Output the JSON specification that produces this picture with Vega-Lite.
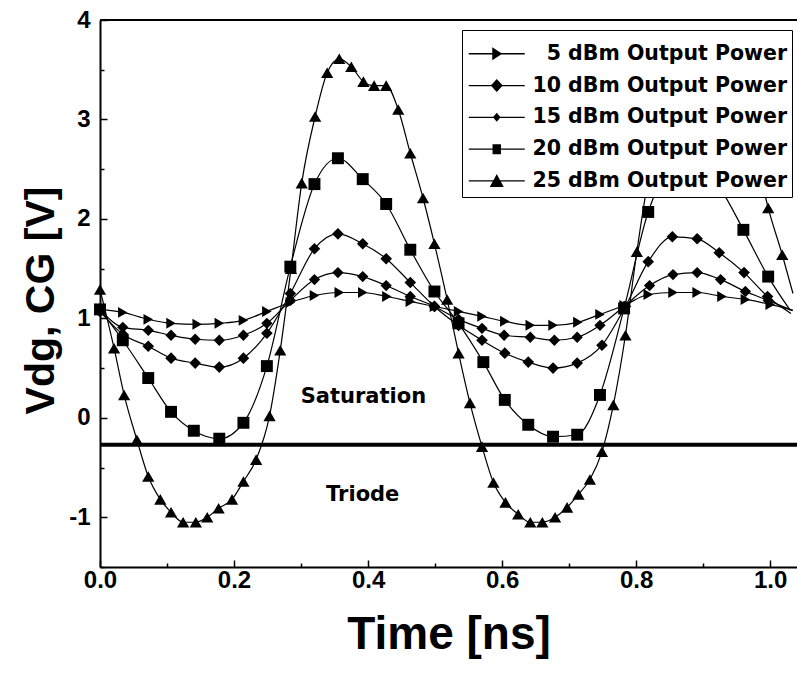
{
  "$schema": "https://vega.github.io/schema/vega-lite/v6.json",
  "width": 697,
  "height": 547,
  "autosize": {"type": "none"},
  "padding": {"left": 100, "top": 20, "right": 0, "bottom": 108},
  "background": "white",
  "config": {
    "view": {"stroke": null},
    "font": "Liberation Sans",
    "axis": {
      "domainColor": "black", "domainWidth": 2, "tickColor": "black", "tickWidth": 1.5,
      "labelColor": "black", "titleColor": "black", "labelFont": "Liberation Sans", "labelFontWeight": "bold",
      "labelFontSize": 24, "titleFont": "Liberation Sans", "titleFontWeight": "bold", "grid": false, "labelFlush": false
    }
  },
  "datasets": {
    "curves": [
      {"series": "5 dBm Output Power", "t": 0, "v": 1.09},
      {"series": "5 dBm Output Power", "t": 0.034, "v": 1.06},
      {"series": "5 dBm Output Power", "t": 0.072, "v": 0.99},
      {"series": "5 dBm Output Power", "t": 0.106, "v": 0.95},
      {"series": "5 dBm Output Power", "t": 0.145, "v": 0.94},
      {"series": "5 dBm Output Power", "t": 0.178, "v": 0.95},
      {"series": "5 dBm Output Power", "t": 0.214, "v": 0.98},
      {"series": "5 dBm Output Power", "t": 0.249, "v": 1.07},
      {"series": "5 dBm Output Power", "t": 0.284, "v": 1.16},
      {"series": "5 dBm Output Power", "t": 0.32, "v": 1.23},
      {"series": "5 dBm Output Power", "t": 0.357, "v": 1.26},
      {"series": "5 dBm Output Power", "t": 0.392, "v": 1.26},
      {"series": "5 dBm Output Power", "t": 0.428, "v": 1.22},
      {"series": "5 dBm Output Power", "t": 0.463, "v": 1.17},
      {"series": "5 dBm Output Power", "t": 0.499, "v": 1.12},
      {"series": "5 dBm Output Power", "t": 0.535, "v": 1.07},
      {"series": "5 dBm Output Power", "t": 0.57, "v": 1.02},
      {"series": "5 dBm Output Power", "t": 0.604, "v": 0.97},
      {"series": "5 dBm Output Power", "t": 0.642, "v": 0.93},
      {"series": "5 dBm Output Power", "t": 0.676, "v": 0.93},
      {"series": "5 dBm Output Power", "t": 0.713, "v": 0.96},
      {"series": "5 dBm Output Power", "t": 0.746, "v": 1.04},
      {"series": "5 dBm Output Power", "t": 0.782, "v": 1.13},
      {"series": "5 dBm Output Power", "t": 0.818, "v": 1.24},
      {"series": "5 dBm Output Power", "t": 0.855, "v": 1.26},
      {"series": "5 dBm Output Power", "t": 0.891, "v": 1.26},
      {"series": "5 dBm Output Power", "t": 0.928, "v": 1.22},
      {"series": "5 dBm Output Power", "t": 0.963, "v": 1.19},
      {"series": "5 dBm Output Power", "t": 1.0, "v": 1.14},
      {"series": "5 dBm Output Power", "t": 1.034, "v": 1.08},

      {"series": "10 dBm Output Power", "t": 0, "v": 1.09},
      {"series": "10 dBm Output Power", "t": 0.034, "v": 0.91},
      {"series": "10 dBm Output Power", "t": 0.072, "v": 0.88},
      {"series": "10 dBm Output Power", "t": 0.106, "v": 0.83},
      {"series": "10 dBm Output Power", "t": 0.142, "v": 0.79},
      {"series": "10 dBm Output Power", "t": 0.178, "v": 0.78},
      {"series": "10 dBm Output Power", "t": 0.214, "v": 0.83},
      {"series": "10 dBm Output Power", "t": 0.249, "v": 0.95},
      {"series": "10 dBm Output Power", "t": 0.284, "v": 1.18},
      {"series": "10 dBm Output Power", "t": 0.32, "v": 1.39},
      {"series": "10 dBm Output Power", "t": 0.355, "v": 1.46},
      {"series": "10 dBm Output Power", "t": 0.392, "v": 1.42},
      {"series": "10 dBm Output Power", "t": 0.427, "v": 1.33},
      {"series": "10 dBm Output Power", "t": 0.463, "v": 1.22},
      {"series": "10 dBm Output Power", "t": 0.499, "v": 1.12},
      {"series": "10 dBm Output Power", "t": 0.535, "v": 0.99},
      {"series": "10 dBm Output Power", "t": 0.57, "v": 0.9},
      {"series": "10 dBm Output Power", "t": 0.603, "v": 0.83},
      {"series": "10 dBm Output Power", "t": 0.642, "v": 0.81},
      {"series": "10 dBm Output Power", "t": 0.678, "v": 0.78},
      {"series": "10 dBm Output Power", "t": 0.712, "v": 0.81},
      {"series": "10 dBm Output Power", "t": 0.746, "v": 0.93},
      {"series": "10 dBm Output Power", "t": 0.782, "v": 1.12},
      {"series": "10 dBm Output Power", "t": 0.82, "v": 1.33},
      {"series": "10 dBm Output Power", "t": 0.855, "v": 1.44},
      {"series": "10 dBm Output Power", "t": 0.891, "v": 1.46},
      {"series": "10 dBm Output Power", "t": 0.926, "v": 1.39},
      {"series": "10 dBm Output Power", "t": 0.963, "v": 1.27},
      {"series": "10 dBm Output Power", "t": 0.997, "v": 1.18},
      {"series": "10 dBm Output Power", "t": 1.033, "v": 1.08},

      {"series": "15 dBm Output Power", "t": 0, "v": 1.07},
      {"series": "15 dBm Output Power", "t": 0.034, "v": 0.84},
      {"series": "15 dBm Output Power", "t": 0.072, "v": 0.72},
      {"series": "15 dBm Output Power", "t": 0.106, "v": 0.6},
      {"series": "15 dBm Output Power", "t": 0.142, "v": 0.55},
      {"series": "15 dBm Output Power", "t": 0.178, "v": 0.51},
      {"series": "15 dBm Output Power", "t": 0.214, "v": 0.6},
      {"series": "15 dBm Output Power", "t": 0.249, "v": 0.85},
      {"series": "15 dBm Output Power", "t": 0.284, "v": 1.25},
      {"series": "15 dBm Output Power", "t": 0.32, "v": 1.7},
      {"series": "15 dBm Output Power", "t": 0.355, "v": 1.85},
      {"series": "15 dBm Output Power", "t": 0.392, "v": 1.75},
      {"series": "15 dBm Output Power", "t": 0.427, "v": 1.6},
      {"series": "15 dBm Output Power", "t": 0.463, "v": 1.36},
      {"series": "15 dBm Output Power", "t": 0.499, "v": 1.12},
      {"series": "15 dBm Output Power", "t": 0.535, "v": 0.93},
      {"series": "15 dBm Output Power", "t": 0.57, "v": 0.78},
      {"series": "15 dBm Output Power", "t": 0.604, "v": 0.65},
      {"series": "15 dBm Output Power", "t": 0.639, "v": 0.56},
      {"series": "15 dBm Output Power", "t": 0.676, "v": 0.5},
      {"series": "15 dBm Output Power", "t": 0.712, "v": 0.55},
      {"series": "15 dBm Output Power", "t": 0.749, "v": 0.73},
      {"series": "15 dBm Output Power", "t": 0.784, "v": 1.12},
      {"series": "15 dBm Output Power", "t": 0.818, "v": 1.57},
      {"series": "15 dBm Output Power", "t": 0.854, "v": 1.82},
      {"series": "15 dBm Output Power", "t": 0.891, "v": 1.8},
      {"series": "15 dBm Output Power", "t": 0.924, "v": 1.66},
      {"series": "15 dBm Output Power", "t": 0.961, "v": 1.46},
      {"series": "15 dBm Output Power", "t": 0.996, "v": 1.22},
      {"series": "15 dBm Output Power", "t": 1.031, "v": 1.05},

      {"series": "20 dBm Output Power", "t": 0, "v": 1.09},
      {"series": "20 dBm Output Power", "t": 0.034, "v": 0.78},
      {"series": "20 dBm Output Power", "t": 0.072, "v": 0.4},
      {"series": "20 dBm Output Power", "t": 0.106, "v": 0.06},
      {"series": "20 dBm Output Power", "t": 0.14, "v": -0.13},
      {"series": "20 dBm Output Power", "t": 0.178, "v": -0.21},
      {"series": "20 dBm Output Power", "t": 0.214, "v": -0.05},
      {"series": "20 dBm Output Power", "t": 0.249, "v": 0.52},
      {"series": "20 dBm Output Power", "t": 0.284, "v": 1.52},
      {"series": "20 dBm Output Power", "t": 0.32, "v": 2.35},
      {"series": "20 dBm Output Power", "t": 0.355, "v": 2.61},
      {"series": "20 dBm Output Power", "t": 0.392, "v": 2.4},
      {"series": "20 dBm Output Power", "t": 0.427, "v": 2.15},
      {"series": "20 dBm Output Power", "t": 0.463, "v": 1.69},
      {"series": "20 dBm Output Power", "t": 0.499, "v": 1.27},
      {"series": "20 dBm Output Power", "t": 0.535, "v": 0.95},
      {"series": "20 dBm Output Power", "t": 0.572, "v": 0.56},
      {"series": "20 dBm Output Power", "t": 0.604, "v": 0.18},
      {"series": "20 dBm Output Power", "t": 0.639, "v": -0.07},
      {"series": "20 dBm Output Power", "t": 0.676, "v": -0.19},
      {"series": "20 dBm Output Power", "t": 0.712, "v": -0.17},
      {"series": "20 dBm Output Power", "t": 0.746, "v": 0.23},
      {"series": "20 dBm Output Power", "t": 0.782, "v": 1.1},
      {"series": "20 dBm Output Power", "t": 0.818, "v": 2.07},
      {"series": "20 dBm Output Power", "t": 0.855, "v": 2.52},
      {"series": "20 dBm Output Power", "t": 0.891, "v": 2.55},
      {"series": "20 dBm Output Power", "t": 0.926, "v": 2.3},
      {"series": "20 dBm Output Power", "t": 0.96, "v": 1.89},
      {"series": "20 dBm Output Power", "t": 0.997, "v": 1.42},
      {"series": "20 dBm Output Power", "t": 1.03, "v": 1.08},

      {"series": "25 dBm Output Power", "t": 0, "v": 1.29},
      {"series": "25 dBm Output Power", "t": 0.021, "v": 0.7},
      {"series": "25 dBm Output Power", "t": 0.036, "v": 0.23},
      {"series": "25 dBm Output Power", "t": 0.055, "v": -0.22},
      {"series": "25 dBm Output Power", "t": 0.072, "v": -0.59},
      {"series": "25 dBm Output Power", "t": 0.09, "v": -0.82},
      {"series": "25 dBm Output Power", "t": 0.106, "v": -0.95},
      {"series": "25 dBm Output Power", "t": 0.124, "v": -1.05},
      {"series": "25 dBm Output Power", "t": 0.143, "v": -1.05},
      {"series": "25 dBm Output Power", "t": 0.16, "v": -1.0},
      {"series": "25 dBm Output Power", "t": 0.177, "v": -0.91},
      {"series": "25 dBm Output Power", "t": 0.197, "v": -0.82},
      {"series": "25 dBm Output Power", "t": 0.214, "v": -0.64},
      {"series": "25 dBm Output Power", "t": 0.233, "v": -0.42},
      {"series": "25 dBm Output Power", "t": 0.253, "v": 0.02},
      {"series": "25 dBm Output Power", "t": 0.269, "v": 0.68},
      {"series": "25 dBm Output Power", "t": 0.285, "v": 1.5},
      {"series": "25 dBm Output Power", "t": 0.301, "v": 2.36},
      {"series": "25 dBm Output Power", "t": 0.321, "v": 3.03},
      {"series": "25 dBm Output Power", "t": 0.339, "v": 3.47},
      {"series": "25 dBm Output Power", "t": 0.357, "v": 3.61},
      {"series": "25 dBm Output Power", "t": 0.375, "v": 3.53},
      {"series": "25 dBm Output Power", "t": 0.393, "v": 3.38},
      {"series": "25 dBm Output Power", "t": 0.409, "v": 3.34},
      {"series": "25 dBm Output Power", "t": 0.427, "v": 3.34},
      {"series": "25 dBm Output Power", "t": 0.445, "v": 3.1},
      {"series": "25 dBm Output Power", "t": 0.463, "v": 2.66},
      {"series": "25 dBm Output Power", "t": 0.482, "v": 2.21},
      {"series": "25 dBm Output Power", "t": 0.499, "v": 1.75},
      {"series": "25 dBm Output Power", "t": 0.518, "v": 1.19},
      {"series": "25 dBm Output Power", "t": 0.535, "v": 0.65},
      {"series": "25 dBm Output Power", "t": 0.552, "v": 0.15},
      {"series": "25 dBm Output Power", "t": 0.57, "v": -0.29},
      {"series": "25 dBm Output Power", "t": 0.587, "v": -0.65},
      {"series": "25 dBm Output Power", "t": 0.605, "v": -0.85},
      {"series": "25 dBm Output Power", "t": 0.624, "v": -0.97},
      {"series": "25 dBm Output Power", "t": 0.642, "v": -1.05},
      {"series": "25 dBm Output Power", "t": 0.66, "v": -1.05},
      {"series": "25 dBm Output Power", "t": 0.679, "v": -1.0},
      {"series": "25 dBm Output Power", "t": 0.697, "v": -0.9},
      {"series": "25 dBm Output Power", "t": 0.714, "v": -0.77},
      {"series": "25 dBm Output Power", "t": 0.731, "v": -0.62},
      {"series": "25 dBm Output Power", "t": 0.749, "v": -0.34},
      {"series": "25 dBm Output Power", "t": 0.766, "v": 0.13},
      {"series": "25 dBm Output Power", "t": 0.784, "v": 0.83},
      {"series": "25 dBm Output Power", "t": 0.801, "v": 1.67},
      {"series": "25 dBm Output Power", "t": 0.818, "v": 2.4},
      {"series": "25 dBm Output Power", "t": 0.838, "v": 3.05},
      {"series": "25 dBm Output Power", "t": 0.856, "v": 3.48},
      {"series": "25 dBm Output Power", "t": 0.874, "v": 3.6},
      {"series": "25 dBm Output Power", "t": 0.892, "v": 3.52},
      {"series": "25 dBm Output Power", "t": 0.91, "v": 3.38},
      {"series": "25 dBm Output Power", "t": 0.926, "v": 3.33},
      {"series": "25 dBm Output Power", "t": 0.944, "v": 3.3},
      {"series": "25 dBm Output Power", "t": 0.962, "v": 3.05},
      {"series": "25 dBm Output Power", "t": 0.98, "v": 2.6},
      {"series": "25 dBm Output Power", "t": 0.997, "v": 2.11},
      {"series": "25 dBm Output Power", "t": 1.018, "v": 1.64},
      {"series": "25 dBm Output Power", "t": 1.034, "v": 1.25}
    ],
    "notes": [
      {"label": "Saturation", "t": 0.393, "v": 0.21},
      {"label": "Triode", "t": 0.392, "v": -0.775}
    ]
  },
  "layer": [
    {
      "data": {"name": "curves"},
      "mark": {"type": "line", "interpolate": "monotone", "color": "black", "strokeWidth": 1.2},
      "encoding": {
        "x": {"field": "t", "type": "quantitative", "scale": {"domain": [0, 1.04], "nice": false, "zero": false},
              "axis": {"orient": "bottom", "values": [0.1, 0.3, 0.5, 0.7, 0.9], "labels": false, "domain": false, "tickSize": -4, "title": null}},
        "y": {"field": "v", "type": "quantitative", "scale": {"domain": [-1.5, 4], "nice": false, "zero": false},
              "axis": {"orient": "left", "values": [-1.5, -0.5, 0.5, 1.5, 2.5, 3.5], "labels": false, "domain": false, "tickSize": -4, "title": null}},
        "detail": {"field": "series", "type": "nominal"}
      }
    },
    {
      "data": {"name": "curves"},
      "transform": [{"filter": "datum.t <= 1.02"}],
      "mark": {"type": "point", "filled": true, "color": "black", "opacity": 1},
      "encoding": {
        "x": {"field": "t", "type": "quantitative",
              "axis": {"orient": "bottom", "values": [0, 0.2, 0.4, 0.6, 0.8, 1.0], "format": ".1f", "tickSize": -7, "labelPadding": 8, "title": "Time [ns]", "titleFontSize": 46, "titlePadding": 20}},
        "y": {"field": "v", "type": "quantitative",
              "axis": {"orient": "left", "values": [-1, 0, 1, 2, 3, 4], "labelExpr": "toString(datum.value)", "tickSize": -7, "labelPadding": 17, "title": "Vdg, CG [V]", "titleFontSize": 41, "titlePadding": 6, "titleY": 280}},
        "shape": {"field": "series", "type": "nominal",
                  "scale": {"domain": ["5 dBm Output Power", "10 dBm Output Power", "15 dBm Output Power", "20 dBm Output Power", "25 dBm Output Power"],
                            "range": ["triangle-right", "diamond", "diamond", "square", "triangle-up"]}, "legend": null},
        "size": {"field": "series", "type": "ordinal",
                 "scale": {"domain": ["5 dBm Output Power", "10 dBm Output Power", "15 dBm Output Power", "20 dBm Output Power", "25 dBm Output Power"],
                           "range": [120, 150, 80, 85, 150]}, "legend": null}
      }
    },
    {
      "data": {"values": [{}]},
      "mark": {"type": "rule", "color": "black", "strokeWidth": 4},
      "encoding": {"y": {"datum": -0.27, "type": "quantitative", "axis": null}}
    },
    {
      "data": {"values": [{}]},
      "mark": {"type": "rule", "color": "black", "strokeWidth": 2},
      "encoding": {"y": {"datum": 4, "type": "quantitative", "axis": null}}
    },
    {
      "data": {"name": "notes"},
      "mark": {"type": "text", "font": "DejaVu Sans", "fontWeight": "bold", "fontSize": 21, "color": "black", "align": "center", "baseline": "middle"},
      "encoding": {
        "x": {"field": "t", "type": "quantitative", "axis": null},
        "y": {"field": "v", "type": "quantitative", "axis": null},
        "text": {"field": "label", "type": "nominal"}
      }
    },
    {
      "data": {"name": "curves"},
      "transform": [{"filter": "false"}],
      "mark": {"type": "point", "filled": true, "color": "black"},
      "encoding": {
        "x": {"field": "t", "type": "quantitative", "axis": null},
        "y": {"field": "v", "type": "quantitative", "axis": null},
        "shape": {"field": "series", "type": "nominal",
                  "scale": {"domain": ["5 dBm Output Power", "10 dBm Output Power", "15 dBm Output Power", "20 dBm Output Power", "25 dBm Output Power"],
                            "range": [
                              "M-2.8,-0.065L2.8,-0.065L2.8,0.065L-2.8,0.065ZM-0.45,-0.65L0.55,0L-0.45,0.65Z",
                              "M-2.8,-0.065L2.8,-0.065L2.8,0.065L-2.8,0.065ZM-0.6,0L0,-0.65L0.6,0L0,0.65Z",
                              "M-2.8,-0.065L2.8,-0.065L2.8,0.065L-2.8,0.065ZM-0.38,0L0,-0.45L0.38,0L0,0.45Z",
                              "M-2.8,-0.065L2.8,-0.065L2.8,0.065L-2.8,0.065ZM-0.42,-0.5L0.42,-0.5L0.42,0.5L-0.42,0.5Z",
                              "M-2.8,-0.065L2.8,-0.065L2.8,0.065L-2.8,0.065ZM0,-0.7L0.7,0.6L-0.7,0.6Z"
                            ]},
                  "legend": {
                    "orient": "none", "legendX": 362, "legendY": 10,
                    "title": "\u00a0", "titleFontSize": 2, "titlePadding": 6.5,
                    "symbolSize": 400, "symbolStrokeWidth": 0, "symbolFillColor": "black", "symbolOpacity": 1,
                    "symbolOffset": 19.5, "labelOffset": 280, "labelAlign": "right",
                    "labelFont": "DejaVu Sans", "labelFontWeight": "bold", "labelFontSize": 20.5, "labelColor": "black", "labelLimit": 400,
                    "rowPadding": 10.8, "padding": 5, "strokeColor": "black", "fillColor": "white",
                    "encode": {
                      "symbols": {"update": {"fill": {"value": "black"}, "stroke": {"value": "transparent"}, "strokeWidth": {"value": 0}, "opacity": {"value": 1}}},
                      "legend": {"update": {"strokeWidth": {"value": 1.5}}}
                    }
                  }}
      }
    }
  ],
  "resolve": {"axis": {"x": "independent", "y": "independent"}, "scale": {"shape": "independent"}}
}
